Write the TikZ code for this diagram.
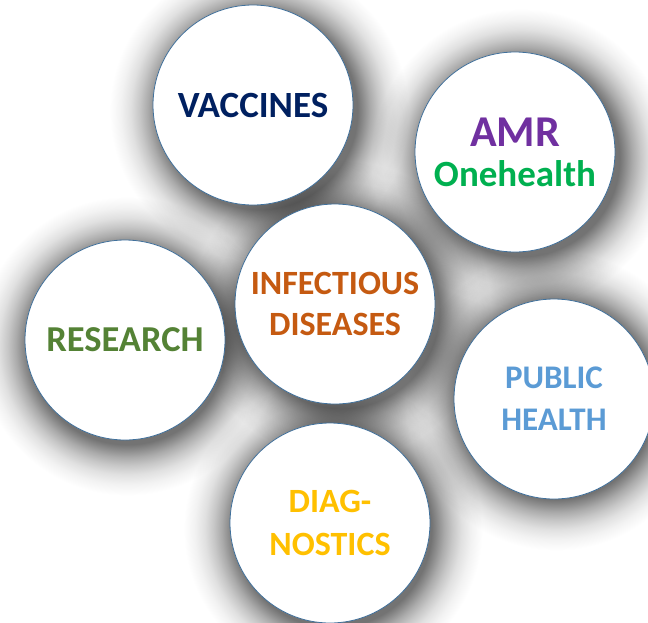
\documentclass[tikz,border=0pt]{standalone}
\usepackage{fontspec}
\setmainfont{Carlito}
\definecolor{rim}{HTML}{41719C}
\definecolor{cvac}{HTML}{002060}
\definecolor{camr}{HTML}{7030A0}
\definecolor{cone}{HTML}{00B050}
\definecolor{cinf}{HTML}{C55A11}
\definecolor{cres}{HTML}{548235}
\definecolor{cpub}{HTML}{5B9BD5}
\definecolor{cdia}{HTML}{FFC000}
\pgfdeclareradialshading{softshadow}{\pgfpoint{0bp}{0bp}}{%
  color(0bp)=(black!55); color(98bp)=(black!55); color(104bp)=(black!45);
  color(111bp)=(black!33); color(119bp)=(black!22); color(128bp)=(black!12);
  color(138bp)=(black!5); color(149bp)=(white)}
\tikzset{
  bubble/.style={circle, draw=rim, line width=0.8pt, fill=white, minimum size=200pt, inner sep=0pt, align=center, font=\bfseries\fontsize{36}{42}\selectfont},
  shadownode/.style={inner sep=0pt, outer sep=0pt}
}
\begin{document}
\begin{tikzpicture}[x=1pt, y=1pt]
\useasboundingbox (0,0) rectangle (648,-622);
\fill[white] (0,0) rectangle (648,-622);
\coordinate (pvac) at (253,-105);
\coordinate (pamr) at (515,-152);
\coordinate (pinf) at (335,-304);
\coordinate (pres) at (121,-340);
\coordinate (ppub) at (550,-395);
\coordinate (pdia) at (327,-523);
\begin{scope}[blend mode=multiply]
\foreach \p in {pvac,pamr,pinf,pres,ppub,pdia}
  \node[shadownode] (s\p) at ([shift={(6pt,-6pt)}]\p) {\pgfuseshading{softshadow}};
\end{scope}
\node[bubble, text=cvac, font=\bfseries\fontsize{37}{42}\selectfont] (vac) at (pvac) {VACCINES};
\node[bubble] (amr) at (pamr) {{\color{camr}\fontsize{44}{48}\selectfont AMR}\\[-2pt]{\color{cone}\fontsize{37}{42}\selectfont Onehealth}};
\node[bubble, text=cinf, font=\bfseries\fontsize{34}{41}\selectfont] (inf) at (pinf) {INFECTIOUS\\DISEASES};
\node[bubble, text=cres, font=\bfseries\fontsize{36.5}{42}\selectfont] (res) at ([xshift=4pt]pres) {RESEARCH};
\node[bubble, text=cpub, font=\bfseries\fontsize{33}{42}\selectfont, text depth=0pt] (pub) at ([xshift=4pt,yshift=-4pt]ppub) {PUBLIC\\HEALTH};
\node[bubble, text=cdia, font=\bfseries\fontsize{34}{43}\selectfont] (dia) at ([xshift=3pt]pdia) {DIAG-\\NOSTICS};
\end{tikzpicture}
\end{document}
